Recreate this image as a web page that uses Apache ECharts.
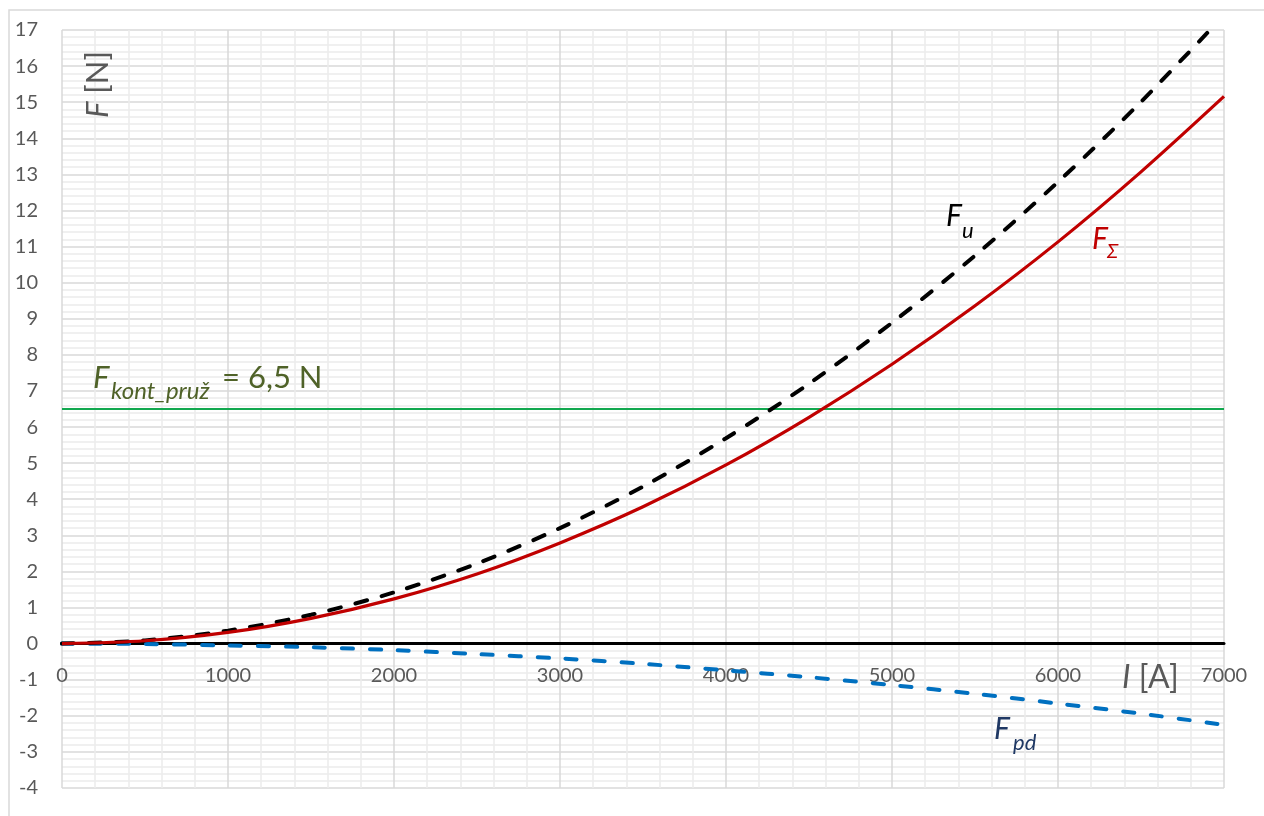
<!DOCTYPE html>
<html>
<head>
<meta charset="utf-8">
<script src="https://cdn.jsdelivr.net/npm/echarts@6/dist/echarts.min.js"></script>
<style>
html,body{margin:0;padding:0;background:#fff;}
#c{width:1264px;height:816px;}
</style>
</head>
<body>
<div id="c"></div>
<script>
// Current I [A]
const currentA = [0, 500, 1000, 1500, 2000, 2500, 3000, 3500, 4000, 4500, 5000, 5500, 6000, 6500, 7000];
// F_u [N] (black dashed)
const forceU = [0, 0.09, 0.36, 0.80, 1.42, 2.22, 3.20, 4.35, 5.69, 7.20, 8.89, 10.75, 12.79, 15.01, 17.41];
// F_pd [N] (blue dashed)
const forcePd = [0, -0.01, -0.05, -0.10, -0.18, -0.29, -0.41, -0.56, -0.74, -0.93, -1.15, -1.39, -1.66, -1.94, -2.25];
// F_Σ [N] (red)
const forceSum = [0, 0.08, 0.31, 0.70, 1.24, 1.93, 2.79, 3.79, 4.95, 6.27, 7.74, 9.36, 11.13, 13.07, 15.16];
// Contact spring force
const forceKont = 6.5;
const xRange = [0, 7000];
const yRange = [-4, 17];

const pairs = (ys) => currentA.map((x, i) => [x, ys[i]]);
const FONT = 'Lato, "Open Sans", sans-serif';

const GRID = { left: 62, right: 40, top: 30, bottom: 28 };
const plotH = 816 - GRID.top - GRID.bottom;
const zeroOffset = plotH * (0 - yRange[0]) / (yRange[1] - yRange[0]);

const chart = echarts.init(document.getElementById('c'));
chart.setOption({
  animation: false,
  backgroundColor: '#ffffff',
  grid: Object.assign({ containLabel: false, outerBoundsMode: 'none' }, GRID),
  xAxis: {
    type: 'value', min: xRange[0], max: xRange[1], interval: 1000,
    position: 'bottom', offset: -zeroOffset,
    axisLine: { show: true, onZero: false, lineStyle: { color: '#000', width: 3 } },
    axisTick: { show: false },
    axisLabel: { color: '#595959', fontSize: 20, fontFamily: FONT, margin: 22,
      formatter: (v) => String(v) },
    splitLine: { show: true, lineStyle: { color: '#d9d9d9', width: 1.5 } },
    minorTick: { show: false, splitNumber: 5 },
    minorSplitLine: { show: true, lineStyle: { color: '#ebebeb', width: 1.5 } }
  },
  yAxis: {
    type: 'value', min: yRange[0], max: yRange[1], interval: 1,
    axisLine: { show: false },
    axisTick: { show: false },
    axisLabel: { color: '#595959', fontSize: 20, fontFamily: FONT, margin: 24 },
    splitLine: { show: true, lineStyle: { color: '#d9d9d9', width: 1.5 } },
    minorTick: { show: false, splitNumber: 5 },
    minorSplitLine: { show: true, lineStyle: { color: '#ebebeb', width: 1.5 } }
  },
  series: [
    {
      name: 'F_kont', type: 'line', symbol: 'none', z: 3,
      data: [[xRange[0], forceKont], [xRange[1], forceKont]],
      lineStyle: { color: '#12a84f', width: 1.8 }
    },
    {
      name: 'F_pd', type: 'line', smooth: 0.3, symbol: 'none', z: 4,
      data: pairs(forcePd),
      lineStyle: { color: '#0070c0', width: 4, type: [11, 17], cap: 'round' }
    },
    {
      name: 'F_u', type: 'line', smooth: 0.3, symbol: 'none', z: 5, clip: true,
      data: pairs(forceU),
      lineStyle: { color: '#000000', width: 4, type: [12, 15], cap: 'round' }
    },
    {
      name: 'F_sum', type: 'line', smooth: 0.3, symbol: 'none', z: 6,
      data: pairs(forceSum),
      lineStyle: { color: '#c00000', width: 3.2 }
    }
  ],
  graphic: [
    { type: 'rect', z: -10, silent: true, shape: { x: 9, y: 10, width: 1400, height: 1000 },
      style: { fill: 'none', stroke: '#d9d9d9', lineWidth: 1.5 } },
    // y-axis title
    { type: 'text', x: 82, y: 118, rotation: Math.PI / 2, z: 20,
      style: { text: '{i|F} [N]', fill: '#595959', font: '31px ' + FONT,
        rich: { i: { fontStyle: 'italic', fontSize: 31, fontFamily: FONT, fill: '#595959' } } } },
    // x-axis title
    { type: 'text', x: 1122, y: 662, z: 20,
      style: { text: '{i|I} [A]', fill: '#595959', font: '32px ' + FONT,
        rich: { i: { fontStyle: 'italic', fontSize: 32, fontFamily: FONT, fill: '#595959' } } } },
    // F_u
    { type: 'text', x: 946, y: 201, z: 20,
      style: { text: 'F', fill: '#000', font: 'italic 30px ' + FONT } },
    { type: 'text', x: 962, y: 220, z: 20,
      style: { text: 'u', fill: '#000', font: 'italic 22px ' + FONT } },
    // F_Σ
    { type: 'text', x: 1092, y: 224, z: 20,
      style: { text: 'F', fill: '#c00000', font: 'italic 30px ' + FONT } },
    { type: 'text', x: 1107, y: 242, z: 20,
      style: { text: 'Σ', fill: '#c00000', font: 'italic 20px ' + FONT } },
    // F_pd
    { type: 'text', x: 994, y: 714, z: 20,
      style: { text: 'F', fill: '#1f3864', font: 'italic 30px ' + FONT } },
    { type: 'text', x: 1013, y: 732, z: 20,
      style: { text: 'pd', fill: '#1f3864', font: 'italic 22px ' + FONT } },
    // F_kont_pruž = 6,5 N
    { type: 'text', x: 93, y: 362, z: 20,
      style: { text: 'F', fill: '#4f6228', font: 'italic 31px ' + FONT } },
    { type: 'text', x: 111, y: 379, z: 20,
      style: { text: 'kont_pruž', fill: '#4f6228', font: 'italic 24px ' + FONT } },
    { type: 'text', x: 222, y: 362, z: 20,
      style: { text: '= 6,5 N', fill: '#4f6228', font: '31px ' + FONT } }
  ]
});
</script>
</body>
</html>
